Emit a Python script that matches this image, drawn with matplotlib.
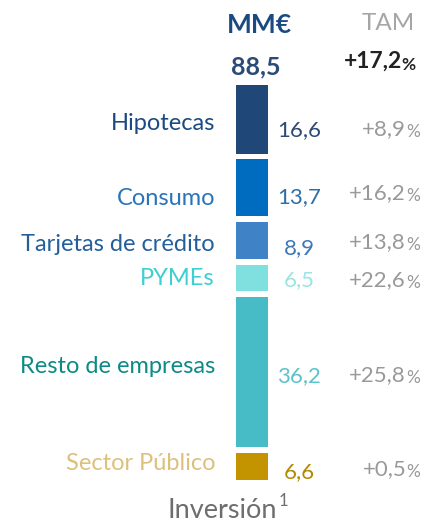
import matplotlib.pyplot as plt

# data, top to bottom as in the chart
categories = ["Hipotecas", "Consumo", "Tarjetas de crédito", "PYMEs",
              "Resto de empresas", "Sector Público"]
values = [16.6, 13.7, 8.9, 6.5, 36.2, 6.6]
growth = ["+8,9", "+16,2", "+13,8", "+22,6", "+25,8", "+0,5"]
total = "88,5"
total_growth = "+17,2"

bar_colors = ["#1F4778", "#006CBF", "#3F83C6", "#80E0E0", "#47BCC6", "#C39300"]
label_colors = ["#1B4A82", "#2A74B9", "#245E9B", "#3DCFD2", "#0E8A86", "#DCC07C"]
value_colors = ["#2B4A75", "#2F6FA8", "#3A78BE", "#9CE3E3", "#5BC3CB", "#B08A00"]

# small vertical nudges (pixels, + is down) for the text columns
label_dy = [5, 12, 5, 2, -4, -2]
value_dy = [6, 4, 3, -3, -1, 1]
pct_dy = [8, 3, 0, 0, 1, 1]

plt.rcParams['font.family'] = ['Lato', 'DejaVu Sans']

fig = plt.figure(figsize=(4.22, 5.25), dpi=100)
ax = fig.add_axes([0, 0, 1, 1])
ax.axis('off')

gap = 1.4
bar_top_px, bar_bot_px = 85, 480
scale = (bar_bot_px - bar_top_px) / (sum(values) + gap * (len(values) - 1))
ax.set_xlim(0, 422)
ax.set_ylim(-(525 - bar_bot_px) / scale, bar_bot_px / scale)


def py(p):
    # pixel row -> data y
    return (bar_bot_px - p) / scale


# stack from the bottom up
bottom = 0
centers = {}
for i in reversed(range(len(values))):
    ax.bar(252, values[i], width=32, bottom=bottom, color=bar_colors[i])
    centers[i] = bottom + values[i] / 2
    bottom += values[i] + gap

grey = "#999999"
for i, cat in enumerate(categories):
    yc = centers[i]
    ax.text(215, yc + 0.3 - label_dy[i] / scale, cat, ha='right', va='center',
            fontsize=17, color=label_colors[i])
    ax.text(299, yc - 1.2 - value_dy[i] / scale,
            f"{values[i]:.1f}".replace(".", ","), ha='center', va='center',
            fontsize=16, color=value_colors[i])
    pct = ax.text(420, yc - 1.2 - pct_dy[i] / scale, "%", ha='right',
                  va='center', fontsize=12.5, color=grey)
    ax.annotate(growth[i], xy=(0, 0.05), xycoords=pct, ha='right', va='bottom',
                fontsize=16, color=grey)

# header
ax.text(259, py(25), "MM€", ha='center', va='center', fontsize=19,
        fontweight='bold', color="#1B4A82")
ax.text(388, py(23), "TAM", ha='center', va='center', fontsize=17.5,
        color="#A6A6A6")
ax.text(256, py(67), total, ha='center', va='center', fontsize=18,
        fontweight='bold', color="#2B4A75")
pct = ax.text(416, py(65), "%", ha='right', va='center', fontsize=12.5,
              fontweight='bold', color="#222222")
ax.annotate(total_growth, xy=(0, 0.05), xycoords=pct, ha='right', va='bottom',
            fontsize=16.5, fontweight='bold', color="#222222")

# footer
inv = ax.text(277, py(510), "Inversión", ha='right', va='center', fontsize=19.5,
              color="#6E6E6E")
ax.annotate("1", xy=(1.01, 0.55), xycoords=inv, ha='left', va='bottom',
            fontsize=12, color="#6E6E6E")

fig.savefig("out.png", dpi=100)
